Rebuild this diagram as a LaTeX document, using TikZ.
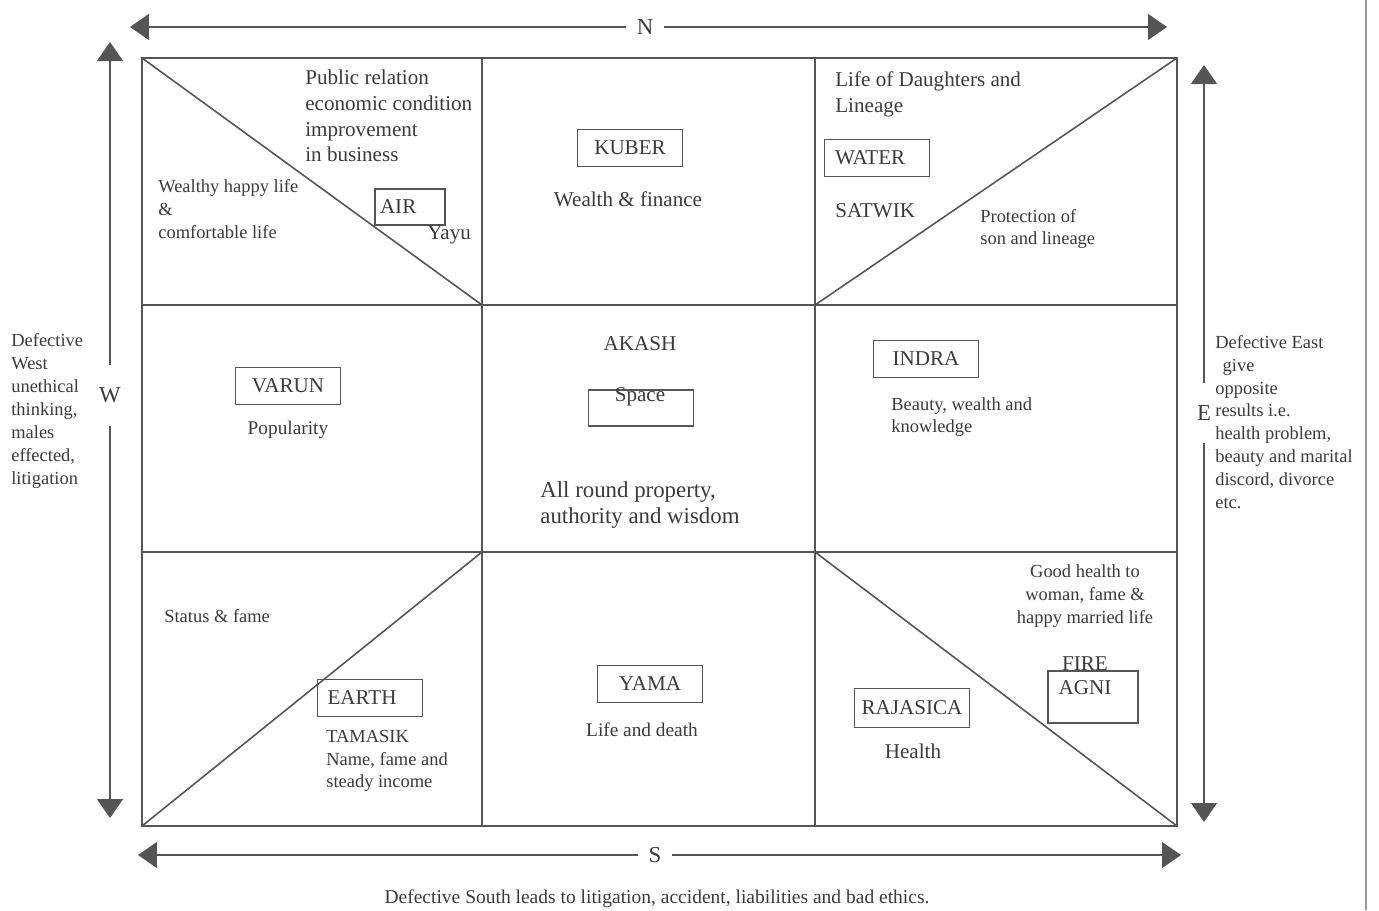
\documentclass[tikz,border=0pt]{standalone}
\usepackage{fontspec}
\setmainfont{Liberation Serif}
\usetikzlibrary{arrows.meta}

\definecolor{ink}{HTML}{3A3A3A}
\definecolor{rulegray}{HTML}{555555}

\tikzset{
  frameline/.style={draw=rulegray, line width=0.9pt},
  elbox/.style={draw=rulegray, line width=0.9pt, minimum width=2.1cm, minimum height=0.74cm,
    inner sep=0pt, text=ink, font=\fontsize{12}{14}\selectfont},
  txt/.style={text=ink, inner sep=0pt, align=left, font=\fontsize{10.5}{13}\selectfont},
  bigtxt/.style={txt, font=\fontsize{12}{14.7}\selectfont},
  compass/.style={text=ink, font=\fontsize{13}{15}\selectfont, inner xsep=0.2cm, inner ysep=0.45cm},
  dirarrow/.style={draw=rulegray, line width=0.9pt, -{Triangle[width=0.52cm,length=0.38cm]}},
}

\begin{document}
\begin{tikzpicture}[x=0.02cm, y=-0.02cm]
     \useasboundingbox (0,0) rectangle (1379,910);
     % page edge of the scan
     \draw[rulegray!60, line width=0.8pt] (1366,0) -- (1366,910);

     % the nine cells
     \draw[frameline] (142,58) rectangle (1177,826);
     \draw[frameline] (482,58) -- (482,826);
     \draw[frameline] (815,58) -- (815,826);
     \draw[frameline] (142,305) -- (1177,305);
     \draw[frameline] (142,552) -- (1177,552);
     \draw[frameline] (142,58) -- (482,305);
     \draw[frameline] (815,305) -- (1177,58);
     \draw[frameline] (142,826) -- (482,552);
     \draw[frameline] (815,552) -- (1177,826);

     % directions
     \node[compass] (north) at (645,27) {N};
     \coordinate (nleft) at (130,27);
     \coordinate (nright) at (1167,27);
     \draw[dirarrow] (north) -- (nleft);
     \draw[dirarrow] (north) -- (nright);

     \node[compass] (south) at (655,855) {S};
     \coordinate (sleft) at (138,855);
     \coordinate (sright) at (1181,855);
     \draw[dirarrow] (south) -- (sleft);
     \draw[dirarrow] (south) -- (sright);

     \node[compass] (west) at (110,395) {W};
     \coordinate (wtop) at (110,42);
     \coordinate (wbot) at (110,818);
     \draw[dirarrow] (west) -- (wtop);
     \draw[dirarrow] (west) -- (wbot);

     \node[compass] (east) at (1204,413) {E};
     \coordinate (etop) at (1204,65);
     \coordinate (ebot) at (1204,822);
     \draw[dirarrow] (east) -- (etop);
     \draw[dirarrow] (east) -- (ebot);

     % north-west
     \node[bigtxt, anchor=west] (pubrel) at (305,116) {Public relation\\economic condition\\improvement\\in business};
     \node[txt, anchor=west] (wealthy) at (158,209) {Wealthy happy life\\\&\\comfortable life};
     \node[elbox, minimum width=1.4cm, minimum height=0.72cm, text width=1.2cm, align=left, inner xsep=0.1cm] (air) at (410,207) {AIR};
     \node[bigtxt, anchor=west] (yayu) at (427,235) {Yayu};

     % north
     \node[elbox] (kuber) at (630,148) {KUBER};
     \node[bigtxt] (wealth) at (628,199) {Wealth \& finance};

     % north-east
     \node[bigtxt, anchor=west] (daughters) at (835,94) {Life of Daughters and\\Lineage};
     \node[elbox, text width=1.68cm, align=left, inner xsep=0.2cm] (water) at (877,158) {WATER};
     \node[bigtxt, anchor=west] (satwik) at (835,211) {SATWIK};
     \node[txt, anchor=west] (protection) at (980,229) {Protection of\\son and lineage};

     % west
     \node[elbox] (varun) at (288,386) {VARUN};
     \node[txt, font=\fontsize{11}{13}\selectfont] (popularity) at (288,430) {Popularity};

     % centre
     \node[bigtxt] (akash) at (640,344) {AKASH};
     \node[elbox, minimum height=0.72cm] (spacebox) at (641,408) {};
     \node[bigtxt] (space) at (640,397) {Space};
     \node[txt, anchor=west, font=\fontsize{13}{15.3}\selectfont] (allround) at (540,505) {All round property,\\authority and wisdom};

     % east
     \node[elbox] (indra) at (926,359) {INDRA};
     \node[txt, anchor=west] (beauty) at (891,417) {Beauty, wealth and\\knowledge};

     % south-west
     \node[txt, anchor=west] (status) at (164,616) {Status \& fame};
     \node[elbox, text width=1.7cm, align=left, inner xsep=0.2cm] (earth) at (370,698) {EARTH};
     \node[txt, anchor=west] (tamasik) at (326,761) {TAMASIK\\Name, fame and\\steady income};

     % south
     \node[elbox] (yama) at (650,684) {YAMA};
     \node[txt, font=\fontsize{11}{13}\selectfont] (lifedeath) at (642,730) {Life and death};

     % south-east
     \node[txt, align=center] (goodhealth) at (1085,596) {Good health to\\woman, fame \&\\happy married life};
     \node[bigtxt] (fire) at (1085,664) {FIRE};
     \node[elbox, minimum width=1.8cm, minimum height=1.04cm] (agnibox) at (1093,697) {};
     \node[bigtxt] (agni) at (1085,688) {AGNI};
     \node[elbox, minimum width=2.3cm, minimum height=0.78cm] (rajasica) at (912,708) {RAJASICA};
     \node[bigtxt] (health) at (913,751) {Health};

     % notes outside the square
     \node[txt, anchor=west] (westnote) at (11,411) {Defective\\West\\unethical\\thinking,\\males\\effected,\\litigation};
     \node[txt, anchor=west] (eastnote) at (1215,422) {Defective East\\\hspace{0.4em}give\\opposite\\results i.e.\\health problem,\\beauty and marital\\discord, divorce\\etc.};
     \node[txt, font=\fontsize{11.1}{13}\selectfont] (southnote) at (657,899) {Defective South leads to litigation, accident, liabilities and bad ethics.};
\end{tikzpicture}
\end{document}
